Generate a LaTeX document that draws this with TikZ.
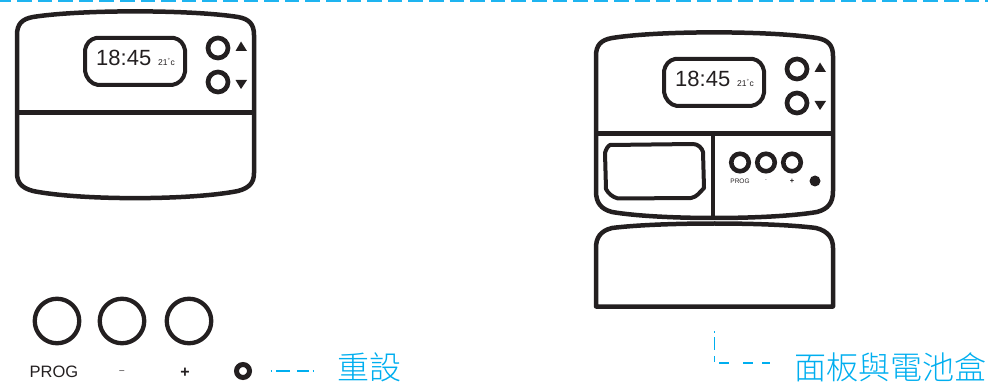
\documentclass[tikz,border=0pt]{standalone}
\usepackage{fontspec}
\setmainfont{Liberation Sans}
\newfontfamily\cjkfont{Noto Sans CJK TC Light}
\definecolor{linecol}{RGB}{35,31,32}
\definecolor{leadcol}{RGB}{0,174,239}
\definecolor{rulecol}{RGB}{30,180,240}
\tikzset{
  shell/.style={draw=linecol,line width=4.5pt,line join=round},
  thinrule/.style={draw=linecol,line width=4.5pt},
  knob/.style={circle,draw=linecol,line width=4.7pt,minimum size=20pt,inner sep=0pt},
  smallknob/.style={circle,draw=linecol,line width=4.6pt,minimum size=17.5pt,inner sep=0pt},
  bigknob/.style={circle,draw=linecol,line width=4.3pt,minimum size=44.5pt,inner sep=0pt},
  tri/.style={fill=linecol,draw=none},
  lcd/.style={text=linecol,inner sep=0pt,font=\fontsize{22}{24}\selectfont},
  temp/.style={text=linecol,inner sep=0pt,font=\fontsize{8.5}{10}\selectfont},
  keylabel/.style={text=linecol,inner sep=0pt,font=\fontsize{16.5}{18}\selectfont},
  tinylabel/.style={text=linecol,inner sep=0pt,font=\fontsize{6.5}{8}\selectfont},
  lead/.style={draw=leadcol,line width=1.2pt},
  callout/.style={text=leadcol,inner sep=0pt,font=\cjkfont\fontsize{32}{34}\selectfont}
}
\newcommand{\frontface}{%
  \node[knob] (up) at (218,48) {};
  \node[knob] (down) at (218,82) {};
  \draw[line width=4pt,draw=linecol,line join=round]
    (96,38) -- (174,38) .. controls (180,39) and (184,44) .. (185,50)
    -- (185,72) .. controls (184,79) and (179,84) .. (172,85)
    -- (98,85) .. controls (91,84) and (86,78) .. (85,71)
    -- (85,50) .. controls (86,44) and (90,39) .. (96,38) -- cycle;
  \node[lcd,anchor=west] (clock) at (96,57.5) {18:45};
  \node[temp,anchor=west] (temp) at (158,62) {21\textsuperscript{°}c};
  \fill[tri] (241,41.5) -- (247,51) -- (235.5,51) -- cycle;
  \fill[tri] (241,89) -- (247,80) -- (235.5,80) -- cycle;
}
\begin{document}
\begin{tikzpicture}[x=1pt,y=-1pt]
\useasboundingbox (0,0) rectangle (988,382);
% top rule
\coordinate (tl) at (0,1.2);
\coordinate (tr) at (988,1.2);
\draw[draw=rulecol,line width=2.2pt,dash pattern=on 14.6pt off 6pt,dash phase=3.6pt] (tl) -- (tr);
% left device
\draw[shell] (17,35) .. controls (17,24) and (22,19) .. (33,17)
  .. controls (80,9.5) and (190,9.5) .. (238,17)
  .. controls (249,19) and (254,24) .. (254,35)
  -- (254,173) .. controls (254,183) and (249,188) .. (238,191)
  .. controls (190,200.5) and (80,200.5) .. (33,191)
  .. controls (22,188) and (17,183) .. (17,173) -- cycle;
\draw[thinrule] (17,112.6) -- (254,112.6);
\frontface
% right device
\begin{scope}[shift={(579,21)},name prefix=r-]
\draw[shell] (17,35) .. controls (17,24) and (22,19) .. (33,17)
  .. controls (80,9.5) and (190,9.5) .. (238,17)
  .. controls (249,19) and (254,24) .. (254,35)
  -- (254,170) .. controls (254,182) and (249,188) .. (238,191)
  .. controls (190,199) and (80,199) .. (33,191)
  .. controls (22,188) and (17,182) .. (17,170) -- cycle;
\draw[thinrule] (17,112.6) -- (254,112.6);
\draw[thinrule] (134,112.6) -- (134,197);
\frontface
\end{scope}
\draw[draw=linecol,line width=4pt,line join=round]
  (610,145) -- (693,144) .. controls (698,144) and (702,148) .. (703,152)
  -- (704,188) .. controls (700,192) and (697,197) .. (691,198)
  -- (618,198.5) .. controls (612,197) and (608,193) .. (606,189)
  -- (605,153) .. controls (606,149) and (608,146) .. (610,145) -- cycle;
\node[smallknob] (pk) at (740,162.5) {};
\node[smallknob] (mk) at (766,162.5) {};
\node[smallknob] (ak) at (792,162.5) {};
\node[tinylabel] (pl) at (740,181) {PROG};
\node[tinylabel,text=gray] (ml) at (766,181) {-};
\node[tinylabel,font=\fontsize{7.5}{8}\selectfont\bfseries] (al) at (792,181) {+};
\node[circle,fill=linecol,minimum size=11pt,inner sep=0pt] (rdot) at (815,181) {};
% battery box
\draw[shell] (596,306.5) -- (596,248) .. controls (596,238) and (600,231) .. (612,228)
  .. controls (660,222) and (770,222) .. (816,228)
  .. controls (828,231) and (833,238) .. (833,248) -- (833,306.5) -- cycle;
% enlarged keys
\node[bigknob] (kprog) at (57,321) {};
\node[bigknob] (kminus) at (122,321) {};
\node[bigknob] (kplus) at (189,321) {};
\node[keylabel] (lprog) at (54,372) {PROG};
\node[keylabel,font=\fontsize{9}{10}\selectfont] (lminus) at (122,372) {–};
\node[keylabel,font=\fontsize{16}{18}\selectfont\bfseries] (lplus) at (185,372.5) {+};
\node[circle,draw=linecol,line width=5pt,minimum size=13pt,inner sep=0pt] (reset) at (243,371) {};
% callouts
\coordinate (rs) at (270.5,371);
\coordinate (re) at (313.5,371);
\draw[lead,dash pattern=on 1.5pt off 4pt on 14pt off 7pt on 12pt off 3.5pt on 1.5pt] (rs) -- (re);
\node[callout,anchor=west] (resetlabel) at (337,367) {重設};
\coordinate (ps) at (714.5,331);
\coordinate (pc) at (714.5,363);
\coordinate (pe) at (771,363);
\draw[lead,dash pattern=on 2pt off 4pt on 13pt off 6pt on 6pt off 5.5pt on 10pt off 14pt on 10pt off 9pt on 8pt] (ps) -- (pc) -- (pe);
\node[callout,anchor=west] (panellabel) at (794,367) {面板與電池盒};
\end{tikzpicture}
\end{document}
